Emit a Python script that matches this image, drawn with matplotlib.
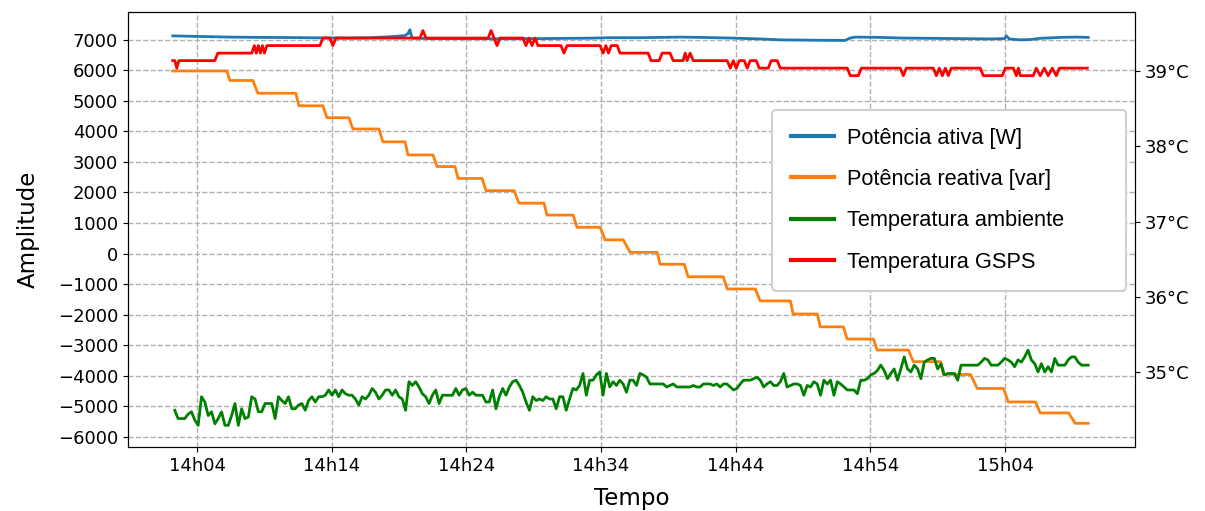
import numpy as np
import matplotlib
matplotlib.use('Agg')
from matplotlib import pyplot
from matplotlib.ticker import FuncFormatter, MultipleLocator, FixedLocator

# Time axis is in minutes after 14h00.

# Active power [W]
t_ativa = [2.19, 4.2, 6.43, 8.66, 10.9, 13.12, 15.35, 16.83, 18.32, 19.43, 19.65,
           19.8, 19.95, 21.3, 23.5, 26.5, 29.46, 31.69, 33.17, 34.66, 36.89,
           39.86, 41.35, 43.58, 45.81, 47.3, 49.5, 52.1, 52.5, 52.87, 54.7,
           56.2, 58.4, 60.7, 62.9, 63.94, 64.09, 64.3, 65.13, 65.87, 66.6,
           68.1, 69.2, 70.17]
p_ativa = [7130, 7110, 7090, 7080, 7075, 7065, 7060, 7070, 7100, 7140, 7200,
           7330, 7060, 7040, 7040, 7035, 7040, 7050, 7055, 7070, 7070,
           7090, 7080, 7060, 7030, 7000, 6990, 6980, 7060, 7090, 7080,
           7060, 7050, 7040, 7030, 7040, 7130, 7030, 7000, 7010, 7050,
           7080, 7090, 7080]

# Reactive power [var]: one entry per plateau
q_inicio = [2.19, 6.43, 8.51, 11.56, 13.64, 15.57, 17.8, 19.66, 21.82, 23.38,
            25.45, 27.9, 29.98, 32.21, 34.29, 36.15, 38.38, 40.46, 43.36, 45.81,
            48.26, 50.27, 52.27, 54.5, 57.18, 59.41, 61.93, 64.23, 66.6, 69.2]
q_fim = [6.21, 8.14, 11.33, 13.34, 15.27, 17.5, 19.44, 21.52, 23.15, 25.16,
         27.54, 29.76, 31.92, 33.93, 35.64, 38.16, 40.17, 43.07, 45.45, 48.05,
         50.06, 51.99, 54.22, 56.82, 59.2, 61.43, 63.88, 66.26, 68.71, 70.17]
q_reativa = [5980, 5670, 5250, 4840, 4450, 4080, 3660, 3230, 2850, 2460,
             2060, 1650, 1260, 860, 450, 40, -350, -760, -1160, -1550,
             -1980, -2400, -2800, -3160, -3540, -3960, -4420, -4860, -5220, -5560]

# Ambient temperature [degC], sampled at a fixed rate
amb_inicio, amb_fim = 2.34, 70.17
temp_amb = [
    34.49, 34.38, 34.38, 34.38, 34.44, 34.47, 34.36, 34.29, 34.67, 34.60,
    34.42, 34.47, 34.31, 34.38, 34.47, 34.29, 34.29, 34.42, 34.58, 34.29,
    34.51, 34.38, 34.40, 34.67, 34.64, 34.47, 34.47, 34.58, 34.58, 34.58,
    34.38, 34.67, 34.62, 34.58, 34.67, 34.51, 34.51, 34.56, 34.58, 34.49,
    34.62, 34.67, 34.60, 34.67, 34.67, 34.69, 34.76, 34.69, 34.76, 34.67,
    34.76, 34.71, 34.69, 34.69, 34.64, 34.56, 34.67, 34.64, 34.69, 34.78,
    34.73, 34.64, 34.69, 34.76, 34.76, 34.69, 34.76, 34.67, 34.64, 34.49,
    34.87, 34.82, 34.87, 34.80, 34.71, 34.67, 34.58, 34.69, 34.76, 34.58,
    34.69, 34.69, 34.69, 34.69, 34.78, 34.69, 34.76, 34.78, 34.69, 34.73,
    34.69, 34.69, 34.69, 34.60, 34.60, 34.76, 34.51, 34.67, 34.78, 34.69,
    34.80, 34.87, 34.89, 34.82, 34.73, 34.60, 34.49, 34.67, 34.62, 34.64,
    34.62, 34.67, 34.64, 34.64, 34.51, 34.67, 34.67, 34.49, 34.64, 34.78,
    34.76, 34.82, 34.98, 34.69, 34.89, 34.89, 34.96, 35.00, 34.69, 34.98,
    34.80,
    34.87, 34.82, 34.89, 34.84, 34.73, 34.89, 34.89, 34.82, 34.98, 34.96,
    34.93, 34.84, 34.84, 34.84, 34.84, 34.84, 34.80, 34.82, 34.84, 34.80,
    34.80, 34.80, 34.80, 34.80, 34.82, 34.80, 34.80, 34.84, 34.84, 34.84,
    34.82, 34.84, 34.80, 34.84, 34.84, 34.80, 34.76, 34.78, 34.84, 34.89,
    34.89, 34.89, 34.91, 34.93, 34.89, 34.80, 34.84, 34.87, 34.82, 34.82,
    34.87, 34.98, 34.80, 34.82, 34.84, 34.84, 34.82, 34.69, 34.82, 34.80,
    34.87, 34.84, 34.69, 34.89, 34.84, 34.89, 34.69, 34.87, 34.84, 34.80,
    34.76, 34.76, 34.76, 34.71, 34.89, 34.89, 34.91, 34.96, 34.98, 35.02,
    35.09, 35.02, 34.91, 34.98, 35.04, 34.89, 35.04, 35.20, 35.04, 35.00,
    35.09, 35.04, 34.91, 35.13, 35.16, 35.18, 35.18, 35.04, 35.11, 34.96,
    34.98, 34.98, 34.98, 34.89, 35.09, 35.09, 35.09, 35.09, 35.09, 35.09,
    35.13, 35.18, 35.16, 35.09, 35.09, 35.09, 35.13, 35.18, 35.16, 35.13,
    35.07, 35.16, 35.13, 35.20, 35.29, 35.16, 35.11, 35.00, 35.11, 35.00,
    35.07, 35.00, 35.18, 35.09, 35.09, 35.09, 35.16, 35.20, 35.20, 35.13,
    35.09, 35.09, 35.09,
]

# GSPS temperature [degC]
t_gsps = [2.19, 2.35, 2.49, 2.65, 5.31, 5.54, 8.06, 8.25, 8.4, 8.55, 8.7,
          8.85, 9.0, 9.18, 13.12, 13.34, 13.86, 14.08, 14.31, 20.55, 20.77,
          21.0, 25.61, 25.83, 26.05, 26.27, 26.49, 28.2, 28.42, 28.64, 28.87,
          29.09, 29.31, 31.02, 31.24, 31.47, 33.92, 34.15, 34.35, 34.55, 34.75,
          35.2, 35.4, 37.49, 37.71, 38.31, 38.53, 39.12, 39.35, 40.09, 40.24,
          40.39, 40.61, 40.84, 43.36, 43.59, 43.81, 44.03, 44.26, 44.63, 44.85,
          45.07, 45.52, 45.74, 46.41, 46.63, 47.08, 47.3, 52.28, 52.5, 53.1,
          53.32, 56.21, 56.44, 56.66, 58.67, 58.89, 59.11, 59.34, 59.56, 59.78,
          60.0, 62.15, 62.38, 63.79, 64.01, 64.61, 64.83, 64.98, 65.13, 66.09,
          66.31, 66.61, 66.91, 67.2, 67.5, 67.8, 68.02, 70.1]
temp_gsps = [39.14, 39.14, 39.04, 39.14, 39.14, 39.24, 39.24, 39.34, 39.24, 39.34, 39.24,
             39.34, 39.24, 39.34, 39.34, 39.44, 39.44, 39.34, 39.44, 39.44, 39.54,
             39.44, 39.44, 39.54, 39.44, 39.34, 39.44, 39.44, 39.34, 39.44, 39.34,
             39.44, 39.34, 39.34, 39.24, 39.34, 39.34, 39.24, 39.34, 39.24, 39.34,
             39.34, 39.24, 39.24, 39.14, 39.14, 39.24, 39.24, 39.14, 39.14, 39.24,
             39.14, 39.24, 39.14, 39.14, 39.04, 39.14, 39.04, 39.14, 39.14, 39.04,
             39.14, 39.14, 39.04, 39.04, 39.14, 39.14, 39.04, 39.04, 38.94, 38.94,
             39.04, 39.04, 38.94, 39.04, 39.04, 38.94, 39.04, 38.94, 39.04, 38.94,
             39.04, 39.04, 38.94, 38.94, 39.04, 39.04, 38.94, 39.04, 38.94, 38.94,
             39.04, 38.94, 39.04, 38.94, 39.04, 38.94, 39.04, 39.04]

# Build the staircase for the reactive power from its plateaus.
t_reativa = np.column_stack([q_inicio, q_fim]).ravel()
q_linha = np.repeat(q_reativa, 2)
t_amb = np.linspace(amb_inicio, amb_fim, len(temp_amb))


def rotulo_hora(m, pos):
    m = int(round(m))
    return f'{14 + m // 60}h{m % 60:02d}'


fig = pyplot.figure(figsize=(12.05, 5.11), dpi=100)
ax = fig.add_axes([0.106, 0.125, 0.836, 0.852])
ax2 = ax.twinx()

l1, = ax.plot(t_ativa, p_ativa, color='#1f77b4', lw=2, label='Potência ativa [W]')
l2, = ax.plot(t_reativa, q_linha, color='#ff7f0e', lw=2, label='Potência reativa [var]')
l3, = ax2.plot(t_amb, temp_amb, color='green', lw=2, label='Temperatura ambiente')
l4, = ax2.plot(t_gsps, temp_gsps, color='red', lw=2, label='Temperatura GSPS')

ax.set_xlim(-1.15, 73.65)
ax.set_ylim(-6340, 7920)
ax2.set_ylim(34.0, 39.79)
ax.xaxis.set_major_locator(FixedLocator([4, 14, 24, 34, 44, 54, 64]))
ax.xaxis.set_major_formatter(FuncFormatter(rotulo_hora))
ax.yaxis.set_major_locator(MultipleLocator(1000))
ax2.yaxis.set_major_locator(FixedLocator([35, 36, 37, 38, 39]))
ax2.yaxis.set_major_formatter(FuncFormatter(lambda v, pos: f'{v:.0f}°C'))

ax.tick_params(labelsize=13)
ax2.tick_params(labelsize=13)
ax.grid(True, linestyle='--', color='#b0b0b0', linewidth=1)
ax.set_xlabel('Tempo', fontsize=16.5, labelpad=9)
ax.set_ylabel('Amplitude', fontsize=16.5, labelpad=13)

leg = ax2.legend(handles=[l1, l2, l3, l4], loc='upper left', mode='expand',
                 bbox_to_anchor=(0.64, 0.356, 0.351, 0.419), borderaxespad=0,
                 prop={'family': 'Liberation Sans', 'size': 15.7},
                 handlelength=2.0, handletextpad=0.6, labelspacing=0.93,
                 borderpad=0.83, framealpha=1.0, edgecolor='#d0d0d0',
                 fancybox=True)
leg.get_frame().set_linewidth(1.5)
for linha in leg.get_lines():
    linha.set_linewidth(3)

fig.savefig('out.png', dpi=100)
